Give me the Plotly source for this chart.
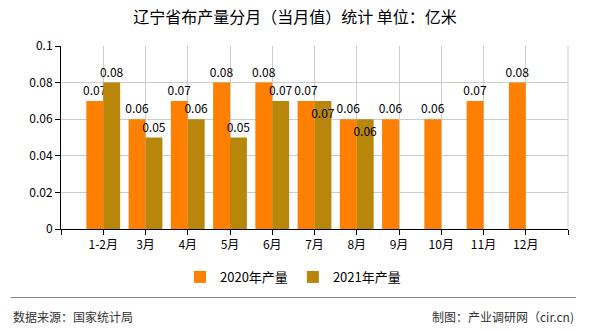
import plotly.graph_objects as go

# Monthly cloth output in Liaoning (unit: 100 million metres)
categories = ["1-2月", "3月", "4月", "5月", "6月", "7月", "8月", "9月", "10月", "11月", "12月"]
output_2020 = [0.07, 0.06, 0.07, 0.08, 0.08, 0.07, 0.06, 0.06, 0.06, 0.07, 0.08]
output_2021 = [0.08, 0.05, 0.06, 0.05, 0.07, 0.07, 0.06, None, None, None, None]
y_ticks = [0, 0.02, 0.04, 0.06, 0.08, 0.1]

W, H = 590, 330
ML, MR, MT, MB = 61, 22, 46, 101
plot_w = W - ML - MR
plot_h = H - MT - MB

def px_x(x):
    return (x - ML) / plot_w

def px_y(y):
    return (H - MB - y) / plot_h

FONT = "Noto Sans CJK SC, DejaVu Sans, sans-serif"
pos = list(range(len(categories)))

def labels(vals):
    return ["" if v is None else f"{v:g}" for v in vals]

# 2021 labels that would collide with the neighbouring 2020 label sit just inside the bar top
pos_2021 = ["inside" if i in (5, 6) else "outside" for i in pos]

fig = go.Figure()
fig.add_trace(go.Bar(
    x=pos, y=output_2020, name="2020年产量",
    marker=dict(color="#FF8000", line=dict(width=0)),
    text=labels(output_2020), textposition="outside", textangle=0,
    textfont=dict(size=12, color="#000000", family=FONT),
    constraintext="none", cliponaxis=False,
))
fig.add_trace(go.Bar(
    x=pos, y=output_2021, name="2021年产量",
    marker=dict(color="#B8860B", line=dict(width=0)),
    text=labels(output_2021), textposition=pos_2021, textangle=0,
    insidetextanchor="end",
    textfont=dict(size=12, color="#000000", family=FONT),
    insidetextfont=dict(size=12, color="#000000", family=FONT),
    constraintext="none", cliponaxis=False,
))

tick_positions = [-1] + pos + [len(categories)]
tick_text = [""] + categories + [""]

fig.update_layout(
    width=W, height=H,
    margin=dict(l=ML, r=MR, t=MT, b=MB),
    paper_bgcolor="white", plot_bgcolor="white",
    font=dict(family=FONT, size=12, color="#000000"),
    barmode="group", bargap=0.2, bargroupgap=0,
    title=dict(text="辽宁省布产量分月（当月值）统计 单位：亿米",
               x=0.5, xanchor="center", y=1 - 17 / H, yanchor="middle",
               font=dict(size=16, color="#000000", family=FONT)),
    showlegend=True,
    legend=dict(orientation="h", x=px_x(293), xanchor="center",
                y=px_y(277), yanchor="middle",
                font=dict(size=13, color="#000000", family=FONT),
                itemwidth=30, traceorder="normal"),
    xaxis=dict(range=[-1, len(categories)], tickmode="array",
               tickvals=tick_positions, ticktext=tick_text,
               showgrid=True, gridcolor="#CCCCCC", gridwidth=1,
               showline=True, linecolor="#000000", linewidth=1,
               ticks="outside", ticklen=5, tickcolor="#000000",
               tickfont=dict(size=12, family=FONT), zeroline=False),
    yaxis=dict(range=[0, 0.1], tickmode="array", tickvals=y_ticks,
               showgrid=True, gridcolor="#CCCCCC", gridwidth=1,
               showline=True, linecolor="#000000", linewidth=1,
               ticks="outside", ticklen=5, tickcolor="#000000",
               tickfont=dict(size=12, family=FONT), zeroline=False),
)

# Right border of the plot box
fig.add_shape(type="line", xref="paper", yref="paper",
              x0=1, x1=1, y0=0, y1=1, line=dict(color="#CCCCCC", width=1))

# Footer divider and source notes
fig.add_shape(type="line", xref="paper", yref="paper",
              x0=px_x(10.5), x1=px_x(576), y0=px_y(297.5), y1=px_y(297.5),
              line=dict(color="#888888", width=1))
fig.add_annotation(text="数据来源：国家统计局", xref="paper", yref="paper",
                   x=px_x(11), y=px_y(316), xanchor="left", yanchor="middle",
                   showarrow=False, font=dict(size=12, color="#333333", family=FONT))
fig.add_annotation(text="制图：产业调研网（cir.cn)", xref="paper", yref="paper",
                   x=px_x(576), y=px_y(316), xanchor="right", yanchor="middle",
                   showarrow=False, font=dict(size=12, color="#333333", family=FONT))

fig.write_html("out.html")
